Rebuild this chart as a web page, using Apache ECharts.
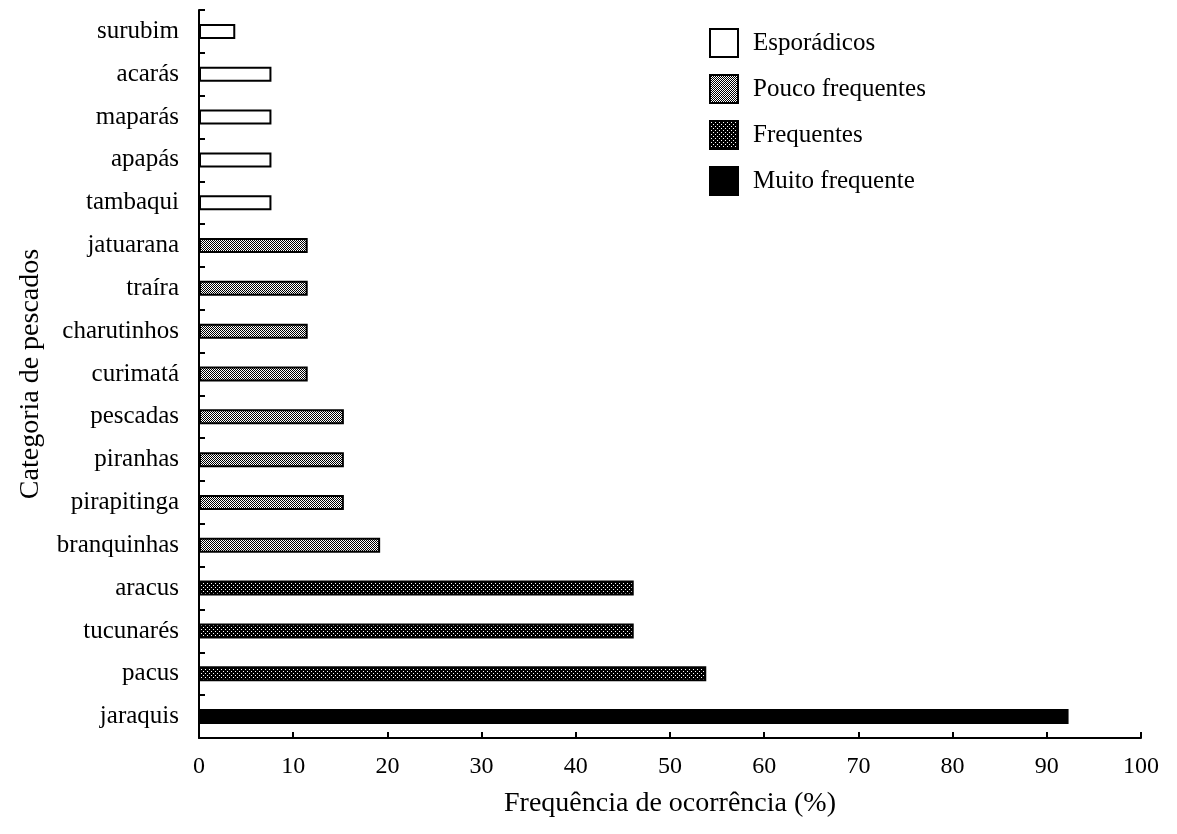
<!DOCTYPE html>
<html>
<head>
<meta charset="utf-8">
<script src="https://cdn.jsdelivr.net/npm/echarts@6/dist/echarts.min.js"></script>
<style>
  html, body { margin: 0; padding: 0; background: #fff; }
  #chart { width: 1177px; height: 834px; }
</style>
</head>
<body>
<div id="chart"></div>
<script>
var categories = ['surubim', 'acarás', 'maparás', 'apapás', 'tambaqui', 'jatuarana', 'traíra',
  'charutinhos', 'curimatá', 'pescadas', 'piranhas', 'pirapitinga', 'branquinhas',
  'aracus', 'tucunarés', 'pacus', 'jaraquis'];
var frequencies = [3.85, 7.69, 7.69, 7.69, 7.69, 11.54, 11.54, 11.54, 11.54,
  15.38, 15.38, 15.38, 19.23, 46.15, 46.15, 53.85, 92.31];
// index into groupNames for each category
var groups = [0, 0, 0, 0, 0, 1, 1, 1, 1, 1, 1, 1, 1, 2, 2, 2, 3];
var groupNames = ['Esporádicos', 'Pouco frequentes', 'Frequentes', 'Muito frequente'];
var xTicks = [0, 10, 20, 30, 40, 50, 60, 70, 80, 90, 100];

function makePattern(size, draw) {
  var c = document.createElement('canvas');
  c.width = size;
  c.height = size;
  var ctx = c.getContext('2d');
  draw(ctx);
  return { image: c, repeat: 'repeat' };
}

// fine checkerboard, light grey look
var checker = makePattern(2, function (ctx) {
  ctx.fillStyle = '#fff';
  ctx.fillRect(0, 0, 2, 2);
  ctx.fillStyle = '#000';
  ctx.fillRect(0, 0, 1, 1);
  ctx.fillRect(1, 1, 1, 1);
});

// black with sparse white dots
var dotted = makePattern(4, function (ctx) {
  ctx.fillStyle = '#000';
  ctx.fillRect(0, 0, 4, 4);
  ctx.fillStyle = '#fff';
  ctx.fillRect(1, 1, 1, 1);
  ctx.fillRect(3, 3, 1, 1);
});

var _fills = ['#ffffff', checker, dotted, '#000000'];
var _font = 'Liberation Serif';

var myChart = echarts.init(document.getElementById('chart'));

var series = groupNames.map(function (name, g) {
  return {
    name: name,
    type: 'bar',
    stack: 'all',
    barWidth: 15,
    itemStyle: {
      color: _fills[g],
      borderColor: '#000',
      borderWidth: 2
    },
    data: frequencies.map(function (v, i) {
      return groups[i] === g ? v : '-';
    })
  };
});

var option = {
  animation: false,
  backgroundColor: '#fff',
  textStyle: { fontFamily: _font, color: '#000' },
  grid: {
    left: 199,
    right: 36,
    top: 10,
    bottom: 96,
    outerBoundsMode: 'none'
  },
  legend: {
    orient: 'vertical',
    left: 704,
    top: 23,
    itemWidth: 28,
    itemHeight: 28,
    itemGap: 16,
    icon: 'rect',
    textStyle: { fontFamily: _font, fontSize: 25, color: '#000', padding: [0, 0, 0, 10] },
    data: groupNames
  },
  xAxis: {
    type: 'value',
    min: 0,
    max: 100,
    interval: 10,
    name: 'Frequência de ocorrência (%)',
    nameLocation: 'middle',
    nameGap: 52,
    nameTextStyle: { fontFamily: _font, fontSize: 28, color: '#000' },
    axisLine: { show: true, lineStyle: { color: '#000', width: 2 } },
    axisTick: { show: true, inside: true, length: 6, lineStyle: { color: '#000', width: 2 } },
    axisLabel: {
      color: '#000',
      fontFamily: _font,
      fontSize: 24,
      margin: 17,
      formatter: function (v) { return xTicks.indexOf(v) >= 0 ? String(v) : ''; }
    },
    splitLine: { show: false }
  },
  yAxis: {
    type: 'category',
    inverse: true,
    data: categories,
    name: 'Categoria de pescados',
    nameLocation: 'middle',
    nameGap: 154,
    nameTextStyle: { fontFamily: _font, fontSize: 28, color: '#000' },
    axisLine: { show: true, lineStyle: { color: '#000', width: 2 } },
    axisTick: { show: true, inside: true, length: 6, lineStyle: { color: '#000', width: 2 } },
    axisLabel: {
      color: '#000',
      fontFamily: _font,
      fontSize: 25,
      margin: 20
    },
    splitLine: { show: false }
  },
  series: series
};

myChart.setOption(option, true);
</script>
</body>
</html>
